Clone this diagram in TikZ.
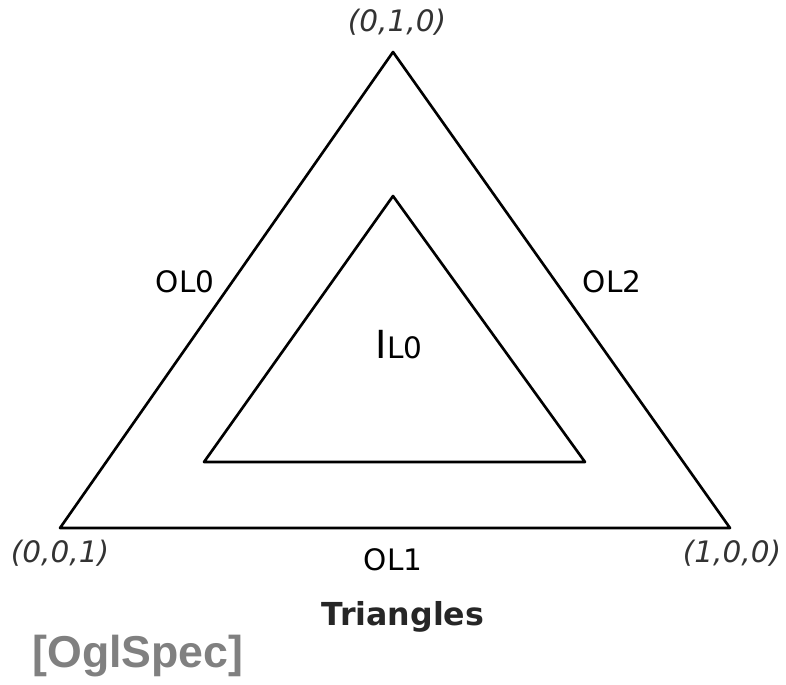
\documentclass[tikz,border=0pt]{standalone}
\usepackage{fontspec}
\setmainfont{DejaVu Sans}
\newfontfamily\specfont{Liberation Sans}
\definecolor{specgray}{RGB}{128,128,128}

\tikzset{
	corner/.style={font=\fontsize{8.4}{10}\selectfont\itshape, text=black!80},
	edgelab/.style={font=\fontsize{8.4}{10}\selectfont},
	side/.style={line width=0.75pt, color=black}
}

\begin{document}
\begin{tikzpicture}[line cap=round,line join=round,x=0.01cm,y=-0.01cm]
				\useasboundingbox (0,0) rectangle (786,684);
				% Outer triangle
				\coordinate (ot) at (393,52);
				\coordinate (ol) at (60,528);
				\coordinate (or) at (730,528);
				\draw [side] (ot) -- (or) -- (ol) -- cycle;
				% Inner triangle
				\coordinate (it) at (393,196);
				\coordinate (il) at (204,462);
				\coordinate (ir) at (585,462);
				\draw [side] (it) -- (ir) -- (il) -- cycle;
				
				% Corners
				\node [corner] (ct) at (397,22) {(0,1,0)};
				\node [corner] (cl) at (60,553) {(0,0,1)};
				\node [corner] (cr) at (732,553) {(1,0,0)};
				%% Edges
				\node [edgelab] (ol0) at (185,282) {OL0};
				\node [edgelab] (ol2) at (612,282) {OL2};
				\node [edgelab] (ol1) at (393,560) {OL1};
				\node [edgelab] (il0) at (399,345) {{\fontsize{11}{12}\selectfont I}L0};
				
				% Titles
				\node [font=\fontsize{9}{11}\selectfont\bfseries, text=black!85] (title) at (403,617) {Triangles};
				\node [font=\specfont\bfseries\fontsize{12.7}{15}\selectfont, text=specgray] (spec) at (138,656) {[OglSpec]};
			\end{tikzpicture}
\end{document}
